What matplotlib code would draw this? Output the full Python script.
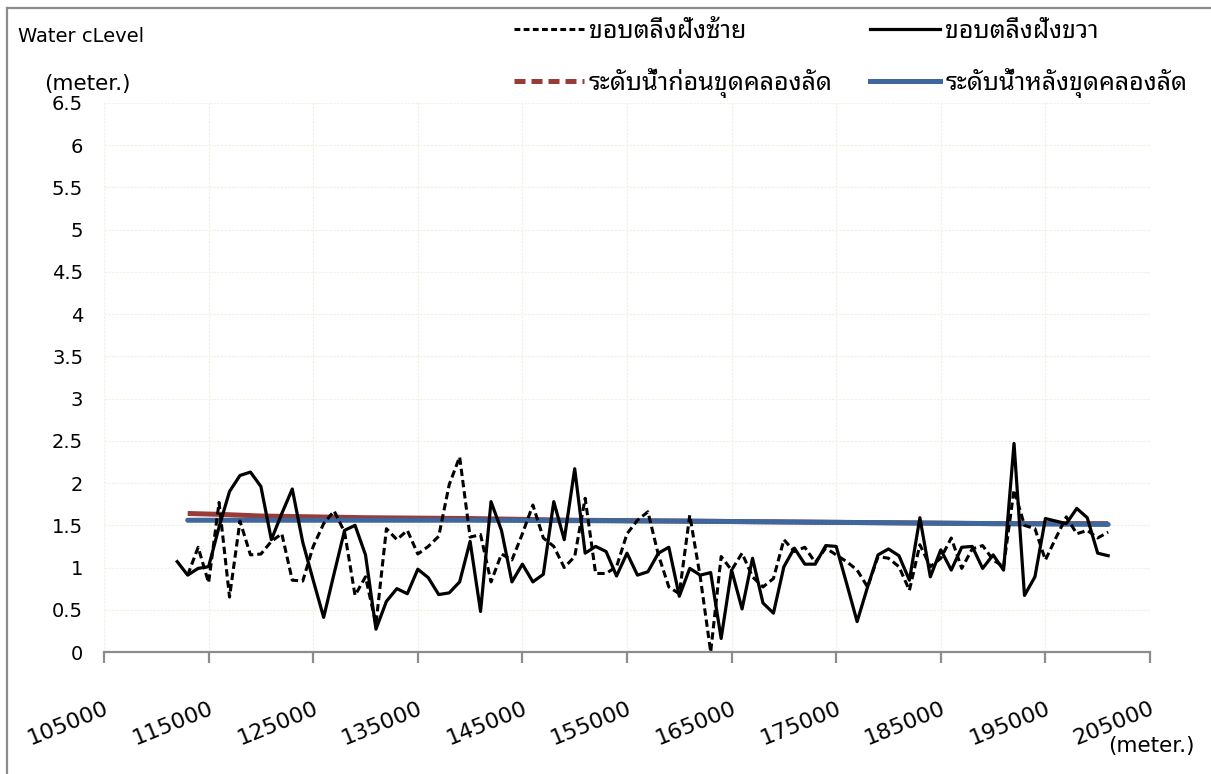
import matplotlib
matplotlib.use("Agg")
import matplotlib.pyplot as plt
import matplotlib.transforms as mtransforms
from matplotlib.lines import Line2D

# Chainage (m) of each surveyed cross-section
station_right = [112000, 113000, 114000, 115000, 116000, 117000, 118000, 119000, 120000, 121000,
                 122000, 123000, 124000, 125000, 126000, 127000, 128000, 129000, 130000, 131000,
                 132000, 133000, 134000, 135000, 136000, 137000, 138000, 139000, 140000, 141000,
                 142000, 143000, 144000, 145000, 146000, 147000, 148000, 149000, 150000, 151000,
                 152000, 153000, 154000, 155000, 156000, 157000, 158000, 159000, 160000, 161000,
                 162000, 163000, 164000, 165000, 166000, 167000, 168000, 169000, 170000, 171000,
                 172000, 173000, 174000, 175000, 176000, 177000, 178000, 179000, 180000, 181000,
                 182000, 183000, 184000, 185000, 186000, 187000, 188000, 189000, 190000, 191000,
                 192000, 193000, 194000, 195000, 196000, 197000, 198000, 199000, 200000, 201000]
bank_right = [1.07, 0.91, 0.99, 1.01, 1.48, 1.90, 2.09, 2.13, 1.96, 1.33,
              1.64, 1.93, 1.30, 0.85, 0.41, 0.93, 1.44, 1.50, 1.15, 0.27,
              0.60, 0.75, 0.69, 0.98, 0.88, 0.68, 0.70, 0.83, 1.31, 0.48,
              1.78, 1.44, 0.83, 1.04, 0.83, 0.92, 1.78, 1.33, 2.17, 1.17,
              1.25, 1.19, 0.90, 1.17, 0.91, 0.95, 1.17, 1.24, 0.66, 0.99,
              0.91, 0.94, 0.16, 0.97, 0.51, 1.11, 0.58, 0.46, 1.01, 1.23,
              1.04, 1.04, 1.26, 1.25, 0.81, 0.36, 0.77, 1.15, 1.22, 1.14,
              0.85, 1.59, 0.89, 1.21, 0.97, 1.24, 1.25, 0.99, 1.15, 0.97,
              2.47, 0.67, 0.89, 1.58, 1.55, 1.52, 1.70, 1.59, 1.17, 1.14]

station_left = [113000, 114000, 115000, 116000, 117000, 118000, 119000, 120000, 121000,
                122000, 123000, 124000, 125000, 126000, 127000, 128000, 129000, 130000, 131000,
                132000, 133000, 134000, 135000, 136000, 137000, 138000, 139000, 140000, 141000,
                142000, 143000, 144000, 145000, 146000, 147000, 148000, 149000, 150000, 151000,
                152000, 153000, 154000, 155000, 156000, 157000, 158000, 159000, 160000, 161000,
                162000, 163000, 164000, 165000, 166000, 167000, 168000, 169000, 170000, 171000,
                172000, 173000, 174000, 175000, 176000, 177000, 178000, 179000, 180000, 181000,
                182000, 183000, 184000, 185000, 186000, 187000, 188000, 189000, 190000, 191000,
                192000, 193000, 194000, 195000, 196000, 197000, 198000, 199000, 200000, 201000]
bank_left = [0.91, 1.24, 0.82, 1.77, 0.65, 1.55, 1.15, 1.16, 1.31,
             1.40, 0.85, 0.84, 1.25, 1.52, 1.67, 1.42, 0.67, 0.89, 0.33,
             1.46, 1.33, 1.44, 1.16, 1.25, 1.37, 1.98, 2.31, 1.36, 1.39,
             0.83, 1.16, 1.09, 1.40, 1.74, 1.35, 1.25, 1.00, 1.13, 1.82,
             0.93, 0.93, 1.01, 1.40, 1.56, 1.66, 1.15, 0.77, 0.69, 1.62,
             0.89, 0.00, 1.13, 0.97, 1.17, 0.89, 0.77, 0.87, 1.33, 1.19,
             1.24, 1.06, 1.23, 1.15, 1.07, 0.97, 0.77, 1.13, 1.11, 1.01,
             0.73, 1.27, 1.01, 1.11, 1.35, 0.99, 1.22, 1.26, 1.09, 1.01,
             1.92, 1.50, 1.46, 1.09, 1.35, 1.60, 1.40, 1.44, 1.35, 1.42]

station_level = [113000, 116000, 120000, 125000, 130000, 140000, 150000,
                 160000, 170000, 180000, 190000, 201000]
level_before = [1.64, 1.63, 1.61, 1.60, 1.59, 1.58, 1.56, 1.55, 1.54, 1.53, 1.52, 1.52]
level_after = [1.56, 1.56, 1.56, 1.56, 1.56, 1.56, 1.555, 1.55, 1.54, 1.53, 1.52, 1.51]

x_ticks = [105000, 115000, 125000, 135000, 145000, 155000, 165000, 175000, 185000, 195000, 205000]
y_ticks = [0, 0.5, 1, 1.5, 2, 2.5, 3, 3.5, 4, 4.5, 5, 5.5, 6, 6.5]
y_tick_labels = ["0", "0.5", "1", "1.5", "2", "2.5", "3", "3.5", "4", "4.5", "5", "5.5", "6", "6.5"]

name_left = "ขอบตลิ่งฝั่งซ้าย"
name_right = "ขอบตลิ่งฝั่งขวา"
name_before = "ระดับน้ำก่อนขุดคลองลัด"
name_after = "ระดับน้ำหลังขุดคลองลัด"

RED = "#9B3B38"
BLUE = "#3E679E"
AXIS_GREY = "#8C8C8C"
GRID = "#F1F1E6"
THAI = ["Noto Sans Thai Looped", "Sarabun", "Noto Sans Thai", "Anuphan", "DejaVu Sans"]
LATIN = ["DejaVu Sans"]

W, H = 1211, 774
fig = plt.figure(figsize=(W / 100, H / 100), dpi=100)

# outer frame (top and left edges)
fig.add_artist(Line2D([7 / W, 1.0], [1 - 8 / H, 1 - 8 / H], color=AXIS_GREY, lw=1.6,
                      transform=fig.transFigure))
fig.add_artist(Line2D([7 / W, 7 / W], [0.0, 1 - 8 / H], color=AXIS_GREY, lw=1.6,
                      transform=fig.transFigure))

ax = fig.add_axes([104 / W, 1 - 652 / H, (1150 - 104) / W, (652 - 103) / H])
ax.set_xlim(105000, 205000)
ax.set_ylim(0, 6.5)

ax.plot(station_level, level_before, color=RED, lw=3.6, solid_capstyle="butt", zorder=3)
ax.plot(station_level, level_after, color=BLUE, lw=3.6, solid_capstyle="round", zorder=4)
ax.plot(station_left, bank_left, color="black", lw=2.2, linestyle=(0, (2.4, 1.3)), zorder=5,
        clip_on=False)
ax.plot(station_right, bank_right, color="black", lw=2.3, zorder=6)

ax.set_xticks(x_ticks)
ax.set_xticklabels([str(v) for v in x_ticks], rotation=22, ha="right", va="top",
                   rotation_mode="anchor", family=LATIN, fontsize=16)
shift = mtransforms.ScaledTranslation(-4 / 100, 0, fig.dpi_scale_trans)
for lbl in ax.get_xticklabels():
    lbl.set_transform(lbl.get_transform() + shift)
ax.set_yticks(y_ticks)
ax.set_yticklabels(y_tick_labels, family=LATIN, fontsize=14)
ax.tick_params(axis="x", direction="out", length=8, width=1.6, color=AXIS_GREY, pad=25)
ax.tick_params(axis="y", length=0, pad=15)

ax.grid(True, color=GRID, lw=0.9, linestyle=(0, (2, 1)))
ax.set_axisbelow(True)
for side in ("top", "right", "left"):
    ax.spines[side].set_visible(False)
ax.spines["bottom"].set_color(AXIS_GREY)
ax.spines["bottom"].set_linewidth(1.6)

fig.text(18 / W, 1 - 37 / H, "Water cLevel", family=LATIN, fontsize=14, va="center", ha="left")
fig.text(44 / W, 1 - 84 / H, "(meter.)", family=LATIN, fontsize=15.5, va="center", ha="left")
fig.text(1108 / W, 1 - 746 / H, "(meter.)", family=LATIN, fontsize=15.5, va="center", ha="left")

# legend is filled column by column: left column first, then right column
handles = [
    Line2D([], [], color="black", lw=2.2, linestyle=(0, (1.9, 1.1))),
    Line2D([], [], color=RED, lw=3.6, linestyle=(0, (2.2, 1.2))),
    Line2D([], [], color="black", lw=2.3),
    Line2D([], [], color=BLUE, lw=3.6),
]
labels = [name_left, name_before, name_right, name_after]
leg = fig.legend(handles, labels, loc="upper left", bbox_to_anchor=(514 / W, 1 - 19 / H),
                 ncol=2, frameon=False, prop={"family": THAI, "size": 18, "weight": "medium"},
                 handlelength=2.8, handletextpad=0.2, columnspacing=1.5, labelspacing=0.95,
                 borderpad=0, borderaxespad=0)

fig.savefig("out.png", dpi=100)
